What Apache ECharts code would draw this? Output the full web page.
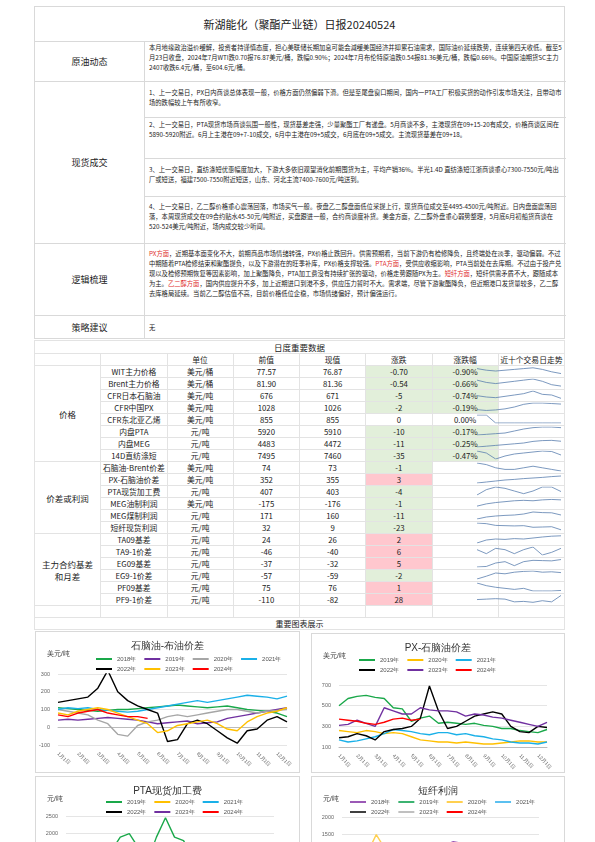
<!DOCTYPE html>
<html>
<head>
<meta charset="utf-8">
<script src="https://cdn.jsdelivr.net/npm/echarts@6/dist/echarts.min.js"></script>
<style>
body { margin:0; width:595px; height:842px; overflow:hidden; background:#fff; font-family:"Noto Sans CJK SC", sans-serif; color:#222; }
.box { position:absolute; box-sizing:border-box; }
.frame { position:absolute; left:34px; width:531px; border:1px solid #d9d9d9; box-sizing:border-box; }
.lab { position:absolute; left:0; width:110px; display:flex; align-items:center; justify-content:center; font-size:9px; border-right:1px solid #d9d9d9; border-bottom:1px solid #d9d9d9; box-sizing:border-box; }
.txt { position:absolute; left:110px; width:421px; font-size:6.3px; line-height:10px; padding:2px 4px; box-sizing:border-box; border-bottom:1px solid #d9d9d9; }
.red { color:#e03030; }
table.d { position:absolute; left:34px; top:340px; width:531px; border-collapse:collapse; font-size:7.8px; table-layout:fixed; }
table.d td { border:1px solid #e3e3e3; height:11px; padding:0; text-align:center; line-height:11px; white-space:nowrap; }
.g { background:#e2efda; } .r { background:#ffc7ce; }
</style>
</head>
<body>
<div class="frame" style="top:6px;height:333px;">
  <div style="position:absolute;left:0;top:0;width:100%;height:34px;border-bottom:1px solid #d9d9d9;display:flex;align-items:center;justify-content:center;font-size:11px;">新湖能化（聚酯产业链）日报20240524</div>
  <div class="lab" style="top:34px;height:41px;">原油动态</div>
  <div class="txt" style="top:34px;height:41px;">本月地缘政治溢价缓解，投资者持谨慎态度，担心美联储长期加息可能会減缓美国经济并抑累石油需求，国际油价延续跌势，连续第四天收低。截至5月23日收盘，2024年7月WTI跌0.70报76.87美元/桶，跌幅0.90%；2024年7月布伦特原油跌0.54报81.36美元/桶，跌幅0.66%。中国原油期货SC主力2407收跌6.4元/桶，至604.6元/桶。</div>
  <div class="lab" style="top:75px;height:162px;">现货成交</div>
  <div class="txt" style="top:75px;height:36px;padding-top:6px;">1、上一交易日，PX日内商谈总体表现一般，价格方面仍然偏弱下滑。但是至尾盘窗口期间，国内一PTA工厂积极买货的动作引发市场关注，且带动市场的跌幅较上午有所收窄。</div>
  <div class="txt" style="top:111px;height:41px;">2、上一交易日，PTA现货市场商谈氛围一般性，现货基差走强，少量聚酯工厂有递盘。5月商谈不多，主港现货在09+15-20有成交，价格商谈区间在5890-5920附近。6月上主港在09+7-10成交，6月中主港在09+5成交，6月底在09+5成交。主流现货基差在09+18。</div>
  <div class="txt" style="top:152px;height:38px;padding-top:6px;">3、上一交易日，直纺涤短优惠幅度加大，下游大多依旧观望消化前期囤货为主，平均产销36%。半光1.4D 直纺涤短江浙商谈重心7300-7550元/吨出厂或短送，福建7500-7550附近短送，山东、河北主流7400-7600元/吨送到。</div>
  <div class="txt" style="top:190px;height:47px;padding-top:5px;">4、上一交易日，乙二醇价格重心震荡回落，市场买气一般。夜盘乙二醇盘面低位采提上行，现货商位成交至4495-4500元/吨附近。日内盘面震荡回落，本周现货成交在09合约贴水45-50元/吨附近，买盘跟进一般，合约商谈度补货。美金方面，乙二醇外盘重心弱势整理，5月底6月初船货商谈在520-524美元/吨附近，场内成交较少听闻。</div>
  <div class="lab" style="top:237px;height:72px;">逻辑梳理</div>
  <div class="txt" style="top:237px;height:72px;padding-top:5px;"><span class="red">PX方面</span>，近期基本面变化不大，前期商品市场情绪转强，PX价格止跌回升。供需预期看，当前下游仍有检修降负，且终端处在淡季，驱动偏弱。不过中期随着PTA检修结束和聚酯提负，以及下游潜在的旺季补库，PX价格支撑较强。<span class="red">PTA方面</span>，受供应收缩影响，PTA当前处在去库期。不过由于投产兑现以及检修预期恢复等因素影响，加上聚酯降负，PTA加工费没有持续扩张的驱动，价格走势跟随PX为主。<span class="red">短纤方面</span>，短纤供需矛盾不大，跟随成本为主。<span class="red">乙二醇方面</span>，国内供应提升不多，加上近期进口到港不多，供应压力暂时不大。需求端，尽管下游聚酯降负，但近期港口发货量较多，乙二醇去库格局延续。当前乙二醇估值不高，目前价格低位企稳，市场情绪偏好，预计偏强运行。</div>
  <div class="lab" style="top:309px;height:23px;border-bottom:none;">策略建议</div>
  <div class="txt" style="top:309px;height:23px;border-bottom:none;line-height:19px;">无</div>
</div>

<table class="d" id="tbl">
<colgroup><col style="width:46px"><col style="width:110px"><col style="width:74px"><col style="width:59px"><col style="width:58px"><col style="width:47px"><col style="width:44px"><col style="width:93px"></colgroup>
</table>

<div class="box" style="left:34px;top:617px;width:531px;height:13px;border:1px solid #e3e3e3;font-size:8px;text-align:center;line-height:12px;">重要图表展示</div>
<div id="spark" class="box" style="left:473px;top:365px;width:92px;height:240px;"></div>
<div id="c1" class="box" style="left:35px;top:631px;width:265px;height:142px;border:1px solid #d9d9d9;"></div>
<div id="c2" class="box" style="left:311px;top:633px;width:254px;height:140px;border:1px solid #d9d9d9;"></div>
<div id="c3" class="box" style="left:35px;top:776px;width:265px;height:160px;border:1px solid #d9d9d9;"></div>
<div id="c4" class="box" style="left:311px;top:776px;width:254px;height:160px;border:1px solid #d9d9d9;"></div>

<script>
// ---- 日度重要数据 ----
var groups = [['价格', 8], ['价差或利润', 6], ['主力合约基差和月差', 6]];
var names = ['WIT主力价格','Brent主力价格','CFR日本石脑油','CFR中国PX','CFR东北亚乙烯','内盘PTA','内盘MEG','14D直纺涤短',
  '石脑油-Brent价差','PX-石脑油价差','PTA现货加工费','MEG油制利润','MEG煤制利润','短纤现货利润',
  'TA09基差','TA9-1价差','EG09基差','EG9-1价差','PF09基差','PF9-1价差'];
var units = ['美元/桶','美元/桶','美元/吨','美元/吨','美元/吨','元/吨','元/吨','元/吨',
  '美元/吨','美元/吨','元/吨','美元/吨','元/吨','元/吨','元/吨','元/吨','元/吨','元/吨','元/吨','元/吨'];
var prevVals = ['77.57','81.90','676','1028','855','5920','4483','7495','74','352','407','-175','171','32','24','-46','-37','-57','75','-110'];
var currVals = ['76.87','81.36','671','1026','855','5910','4472','7460','73','355','403','-176','160','9','26','-40','-32','-59','76','-82'];
var changes = ['-0.70','-0.54','-5','-2','0','-10','-11','-35','-1','3','-4','-1','-11','-23','2','6','5','-2','1','28'];
var pcts = ['-0.90%','-0.66%','-0.74%','-0.19%','0.00%','-0.17%','-0.25%','-0.47%','','','','','','','','','','','',''];
var sparks = [
  [80,79,78.5,79,79.5,80,80.5,79.5,78,76.9],
  [84,83,82.5,83,83.5,84,84.5,83.5,82,81.4],
  [675,673,672,674,676,678,682,677,676,671],
  [1005,1002,1004,1008,1015,1025,1030,1030,1028,1026],
  [880,880,855,855,855,855,855,855,855,855],
  [5800,5810,5820,5830,5860,5890,5910,5920,5920,5910],
  [4400,4410,4420,4430,4440,4450,4470,4480,4483,4472],
  [7500,7480,7420,7450,7470,7480,7490,7500,7495,7460],
  [78,77,75,74,74,75,76,75,74,73],
  [320,325,330,335,338,342,345,348,352,355],
  [390,410,420,415,405,395,405,420,420,403],
  [-190,-185,-182,-180,-178,-177,-178,-176,-175,-176],
  [140,150,155,158,160,165,175,172,171,160],
  [60,55,42,40,38,40,28,30,32,9],
  [-10,5,10,8,12,10,15,20,24,26],
  [-42,-48,-40,-42,-48,-42,-38,-50,-46,-40],
  [-60,-58,-45,-40,-55,-40,-35,-36,-37,-32],
  [-75,-68,-60,-62,-58,-56,-55,-58,-57,-59],
  [90,85,82,80,78,80,75,75,75,76],
  [-100,-98,-96,-98,-110,-108,-112,-105,-110,-82]
];

var tbl = document.getElementById('tbl');
var html = '<tr><td colspan="8" style="font-size:8.5px;height:12px">日度重要数据</td></tr>';
html += '<tr><td></td><td></td><td>单位</td><td>前值</td><td>现值</td><td>涨跌</td><td>涨跌幅</td><td>近十个交易日走势</td></tr>';
var idx = 0;
groups.forEach(function (g) {
  for (var k = 0; k < g[1]; k++) {
    var i = idx + k;
    var c = parseFloat(changes[i]);
    var cls = c < 0 ? 'g' : (c > 0 ? 'r' : '');
    var pcls = pcts[i] ? cls : '';
    html += '<tr>';
    if (k === 0) html += '<td rowspan="' + g[1] + '" style="white-space:normal;line-height:12px;padding:0 5px;font-size:8.5px">' + g[0] + '</td>';
    html += '<td>' + names[i] + '</td><td>' + units[i] + '</td><td>' + prevVals[i] + '</td><td>' + currVals[i] +
      '</td><td class="' + cls + '">' + changes[i] + '</td><td class="' + pcls + '">' + pcts[i] + '</td><td></td></tr>';
  }
  idx += g[1];
});
html += '<tr><td></td><td></td><td></td><td></td><td></td><td></td><td></td><td></td></tr>';
tbl.innerHTML = html;

var spark = echarts.init(document.getElementById('spark'));
var sg = [], sx = [], sy = [], ss = [];
sparks.forEach(function (d, i) {
  sg.push({ left: 4, right: 4, top: i * 12 + 2, height: 8 });
  sx.push({ type: 'category', gridIndex: i, show: false, boundaryGap: false, data: d.map(function (v, j) { return j; }) });
  sy.push({ type: 'value', gridIndex: i, show: false, scale: true });
  ss.push({ type: 'line', xAxisIndex: i, yAxisIndex: i, data: d, symbol: 'none', lineStyle: { color: '#5b7fae', width: 0.8 } });
});
spark.setOption({ animation: false, grid: sg, xAxis: sx, yAxis: sy, series: ss });

// ---- 重要图表 ----
var dayLabels = ['1月1日','1月16日','2月1日','2月16日','3月1日','3月16日','4月1日','4月16日','5月1日','5月16日','6月1日','6月16日',
  '7月1日','7月16日','8月1日','8月16日','9月1日','9月16日','10月1日','10月16日','11月1日','11月16日','12月1日','12月16日'];

var nbYears = ['2018年','2019年','2020年','2021年','2022年','2023年','2024年'];
var nbColors = ['#1aa84a','#7030a0','#a6a6a6','#1ab0e8','#000000','#ffc000','#ff0000'];
var nb2018 = [110,105,100,95,90,95,100,100,105,110,115,120,125,120,115,110,115,120,110,100,95,90,80,60];
var nb2019 = [40,45,40,45,50,55,50,45,40,30,20,25,30,35,20,25,30,50,60,70,80,90,100,110];
var nb2020 = [100,90,80,70,40,20,-40,-50,10,30,40,60,70,60,70,80,90,100,100,90,80,90,95,100];
var nb2021 = [100,110,105,110,100,95,90,85,90,100,110,120,130,140,150,140,150,160,170,180,175,170,160,175];
var nb2022 = [140,150,160,170,220,320,200,150,120,100,80,-80,-70,20,40,20,-20,-60,-90,-20,-10,40,60,30];
var nb2023 = [80,70,90,100,110,100,80,60,40,20,-30,-20,10,20,30,40,20,-10,-20,30,60,80,90,110];
var nb2024 = [70,60,80,90,100,80,70,60,60,50];

var pxYears = ['2019年','2020年','2021年','2022年','2023年','2024年'];
var pxColors = ['#1aa84a','#ffc000','#1ab0e8','#000000','#7030a0','#ff0000'];
var px2019 = [500,570,590,600,580,570,480,470,350,380,400,330,340,330,320,330,310,300,280,280,260,250,240,270];
var px2020 = [260,250,240,260,250,230,240,230,200,170,160,150,150,140,150,140,130,130,140,150,160,160,150,150];
var px2021 = [170,150,160,180,200,230,270,260,250,230,220,240,240,220,230,210,200,180,170,150,140,140,130,150];
var px2022 = [190,200,230,210,170,250,270,280,300,380,690,450,280,300,350,400,420,440,420,300,250,240,300,290];
var px2023 = [310,320,360,330,300,480,450,420,420,480,460,450,450,440,400,420,410,390,380,360,340,320,300,340];
var px2024 = [370,360,350,330,320,340,370,380,360,370];

var ptaYears = ['2019年','2020年','2021年','2022年','2023年','2024年'];
var ptaColors = ['#1aa84a','#ffc000','#1ab0e8','#000000','#7030a0','#ff0000'];
var pta2019 = [700,800,900,1000,1200,1500,1900,2000,1600,1200,1900,2450,1900,1800,1300,1000,900,800,700,800,900,800,700,600];
var pta2020 = [700,650,600,700,800,600,500,550,600,450,500,450,420,400,450,500,480,400,380,400,420,450,400,380];
var pta2021 = [400,380,420,450,480,500,450,400,380,500,600,650,700,600,550,500,480,450,500,600,550,500,480,450];
var pta2022 = [600,650,700,750,800,700,650,600,550,700,900,1000,700,500,400,350,300,350,400,450,500,600,650,700];
var pta2023 = [500,550,600,650,700,650,600,550,500,400,350,300,300,350,400,380,350,300,320,350,330,300,280,300];
var pta2024 = [350,380,400,380,360,350,380,400,410,403];

var pfYears = ['2018年','2019年','2020年','2021年','2022年','2023年','2024年'];
var pfColors = ['#9b59b6','#3cb371','#ffd050','#5bc0f0','#404040','#c0c0c0','#ff0000'];
var pf2018 = [600,650,700,750,800,900,1000,900,800,850,900,1100,1200,1300,1250,1100,1000,900,800,700,650,600,550,500];
var pf2019 = [500,550,600,500,450,400,350,300,250,300,350,300,250,200,250,300,200,150,100,150,200,250,200,150];
var pf2020 = [300,400,600,1000,1500,1100,800,600,400,300,250,200,250,300,200,150,100,150,200,250,200,150,100,150];
var pf2021 = [200,250,300,250,200,150,100,150,200,250,300,200,150,100,50,100,150,200,300,250,200,150,100,150];
var pf2022 = [100,150,200,250,300,200,100,0,-100,-50,0,50,100,50,0,-50,0,50,100,50,0,-50,0,50];
var pf2023 = [0,50,100,150,100,50,0,-50,0,50,100,50,0,50,100,150,100,50,0,50,100,50,0,50];
var pf2024 = [100,80,60,40,50,60,30,40,32,9];

function seasonChart(id, title, unit, years, colors, data, yMin, yMax, yInt, gridTop, gridBottom, left, right, legendLeft, legendTop, legendW) {
  var ch = echarts.init(document.getElementById(id));
  var perRow = years.length === 7 ? 4 : 3;
  var legends = [
    { top: legendTop, left: legendLeft, width: legendW, itemWidth: 16, itemHeight: 2, itemGap: 8, data: years.slice(0, perRow), textStyle: { fontSize: 6, color: '#555' }, icon: 'rect' },
    { top: legendTop + 10, left: legendLeft, width: legendW, itemWidth: 16, itemHeight: 2, itemGap: 8, data: years.slice(perRow), textStyle: { fontSize: 6, color: '#555' }, icon: 'rect' }
  ];
  var series = years.map(function (y, i) {
    return { name: y, type: 'line', data: data[i], symbol: 'none', smooth: false,
      lineStyle: { color: colors[i], width: 1.4 }, itemStyle: { color: colors[i] } };
  });
  ch.setOption({
    animation: false,
    title: [
      { text: title, left: 'center', top: 4, textStyle: { fontSize: 10, fontWeight: 'normal', color: '#333' } },
      { text: unit, left: 6, top: 14, textStyle: { fontSize: 6.5, fontWeight: 'normal', color: '#333' } }
    ],
    legend: legends,
    grid: { left: left, right: right, top: gridTop, bottom: gridBottom },
    xAxis: { type: 'category', data: dayLabels, boundaryGap: false,
      axisLine: { lineStyle: { color: '#bbb' } }, axisTick: { show: false },
      axisLabel: { interval: 1, rotate: -45, fontSize: 5, color: '#666' } },
    yAxis: { type: 'value', min: yMin, max: yMax, interval: yInt,
      axisLine: { show: false }, axisTick: { show: false },
      axisLabel: { fontSize: 5.5, color: '#666', formatter: function (v) { return String(v); } },
      splitLine: { lineStyle: { color: '#e5e5e5' } } },
    series: series
  });
}

seasonChart('c1', '石脑油-布油价差', '美元/吨', nbYears, nbColors,
  [nb2018, nb2019, nb2020, nb2021, nb2022, nb2023, nb2024], -100, 300, 100, 42, 27, 21, 12, 55, 19, 200);
seasonChart('c2', 'PX-石脑油价差', '美元/吨', pxYears, pxColors,
  [px2019, px2020, px2021, px2022, px2023, px2024], 100, 700, 200, 51, 24, 27, 17, 42, 18, 190);
seasonChart('c3', 'PTA现货加工费', '元/吨', ptaYears, ptaColors,
  [pta2019, pta2020, pta2021, pta2022, pta2023, pta2024], 0, 2500, 500, 39, 31, 30, 25, 65, 17, 180);
seasonChart('c4', '短纤利润', '元/吨', pfYears, pfColors,
  [pf2018, pf2019, pf2020, pf2021, pf2022, pf2023, pf2024], -500, 2000, 500, 40, 30, 30, 25, 33, 17, 200);
</script>
</body>
</html>
